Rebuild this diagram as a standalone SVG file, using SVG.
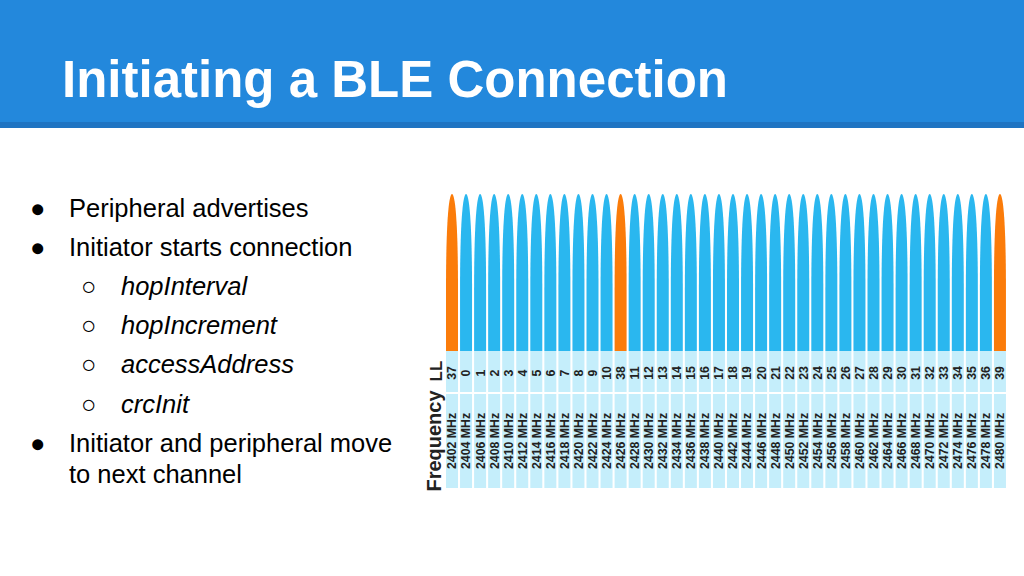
<svg xmlns="http://www.w3.org/2000/svg" xmlns:xlink="http://www.w3.org/1999/xlink" width="1024" height="576" viewBox="0 0 1024 576">
<style>
.title{font-family:"Liberation Sans",Arial,sans-serif;font-weight:bold;font-size:51px;fill:#ffffff}
.b{font-family:"Liberation Sans",Arial,sans-serif;font-size:25.5px;fill:#000000}
.bi{font-family:"Liberation Sans",Arial,sans-serif;font-size:25.5px;font-style:italic;fill:#000000}
.blue{fill:#2AB7EF}
.orange{fill:#FB7C0A}
.cell{fill:#C5EEFB}
.n{font-family:"Liberation Sans",Arial,sans-serif;font-weight:bold;font-size:12.3px;fill:#222222;text-anchor:middle}
.lab{font-family:"Liberation Sans",Arial,sans-serif;font-weight:bold;fill:#222222;text-anchor:middle}
</style>
<defs>
<path id="lobe" d="M0,351 L0,290 C0,220 3,194 6,194 C9,194 12,220 12,290 L12,351 Z"/>
<g id="cells"><rect x="0" y="351" width="12" height="41" class="cell"/><rect x="0" y="394" width="12" height="94" class="cell"/></g>
</defs>
<rect x="0" y="0" width="1024" height="576" fill="#ffffff"/>
<g id="header">
<rect x="0" y="0" width="1024" height="122" fill="#2388DC"/>
<rect x="0" y="122" width="1024" height="6" fill="#1F74C2"/>
<text class="title" x="62" y="97" textLength="666" lengthAdjust="spacingAndGlyphs">Initiating a BLE Connection</text>
</g>
<g id="bullets">
<text class="b" x="30" y="217">●</text><text class="b" x="69" y="217">Peripheral advertises</text>
<text class="b" x="30" y="256">●</text><text class="b" x="69" y="256">Initiator starts connection</text>
<text class="b" x="81" y="295">○</text><text class="bi" x="121" y="295">hopInterval</text>
<text class="b" x="81" y="334">○</text><text class="bi" x="121" y="334">hopIncrement</text>
<text class="b" x="81" y="373">○</text><text class="bi" x="121" y="373">accessAddress</text>
<text class="b" x="81" y="413">○</text><text class="bi" x="121" y="413">crcInit</text>
<text class="b" x="30" y="452">●</text><text class="b" x="69" y="452">Initiator and peripheral move</text>
<text class="b" x="69" y="483">to next channel</text>
</g>
<g id="axis-labels">
<text class="lab" font-size="17" transform="translate(442,371) rotate(-90)">LL</text>
<text class="lab" font-size="20" transform="translate(441,441) rotate(-90)">Frequency</text>
</g>
<g id="channels">
<g id="ch37" transform="translate(446,0)"><use xlink:href="#lobe" class="orange"/><use xlink:href="#cells"/><text class="n" transform="translate(10.4,373) rotate(-90)">37</text><text class="n" transform="translate(10.4,441) rotate(-90)">2402 MHz</text></g>
<g id="ch0" transform="translate(460.05,0)"><use xlink:href="#lobe" class="blue"/><use xlink:href="#cells"/><text class="n" transform="translate(10.4,373) rotate(-90)">0</text><text class="n" transform="translate(10.4,441) rotate(-90)">2404 MHz</text></g>
<g id="ch1" transform="translate(474.1,0)"><use xlink:href="#lobe" class="blue"/><use xlink:href="#cells"/><text class="n" transform="translate(10.4,373) rotate(-90)">1</text><text class="n" transform="translate(10.4,441) rotate(-90)">2406 MHz</text></g>
<g id="ch2" transform="translate(488.15,0)"><use xlink:href="#lobe" class="blue"/><use xlink:href="#cells"/><text class="n" transform="translate(10.4,373) rotate(-90)">2</text><text class="n" transform="translate(10.4,441) rotate(-90)">2408 MHz</text></g>
<g id="ch3" transform="translate(502.2,0)"><use xlink:href="#lobe" class="blue"/><use xlink:href="#cells"/><text class="n" transform="translate(10.4,373) rotate(-90)">3</text><text class="n" transform="translate(10.4,441) rotate(-90)">2410 MHz</text></g>
<g id="ch4" transform="translate(516.25,0)"><use xlink:href="#lobe" class="blue"/><use xlink:href="#cells"/><text class="n" transform="translate(10.4,373) rotate(-90)">4</text><text class="n" transform="translate(10.4,441) rotate(-90)">2412 MHz</text></g>
<g id="ch5" transform="translate(530.3,0)"><use xlink:href="#lobe" class="blue"/><use xlink:href="#cells"/><text class="n" transform="translate(10.4,373) rotate(-90)">5</text><text class="n" transform="translate(10.4,441) rotate(-90)">2414 MHz</text></g>
<g id="ch6" transform="translate(544.35,0)"><use xlink:href="#lobe" class="blue"/><use xlink:href="#cells"/><text class="n" transform="translate(10.4,373) rotate(-90)">6</text><text class="n" transform="translate(10.4,441) rotate(-90)">2416 MHz</text></g>
<g id="ch7" transform="translate(558.4,0)"><use xlink:href="#lobe" class="blue"/><use xlink:href="#cells"/><text class="n" transform="translate(10.4,373) rotate(-90)">7</text><text class="n" transform="translate(10.4,441) rotate(-90)">2418 MHz</text></g>
<g id="ch8" transform="translate(572.45,0)"><use xlink:href="#lobe" class="blue"/><use xlink:href="#cells"/><text class="n" transform="translate(10.4,373) rotate(-90)">8</text><text class="n" transform="translate(10.4,441) rotate(-90)">2420 MHz</text></g>
<g id="ch9" transform="translate(586.5,0)"><use xlink:href="#lobe" class="blue"/><use xlink:href="#cells"/><text class="n" transform="translate(10.4,373) rotate(-90)">9</text><text class="n" transform="translate(10.4,441) rotate(-90)">2422 MHz</text></g>
<g id="ch10" transform="translate(600.55,0)"><use xlink:href="#lobe" class="blue"/><use xlink:href="#cells"/><text class="n" transform="translate(10.4,373) rotate(-90)">10</text><text class="n" transform="translate(10.4,441) rotate(-90)">2424 MHz</text></g>
<g id="ch38" transform="translate(614.6,0)"><use xlink:href="#lobe" class="orange"/><use xlink:href="#cells"/><text class="n" transform="translate(10.4,373) rotate(-90)">38</text><text class="n" transform="translate(10.4,441) rotate(-90)">2426 MHz</text></g>
<g id="ch11" transform="translate(628.65,0)"><use xlink:href="#lobe" class="blue"/><use xlink:href="#cells"/><text class="n" transform="translate(10.4,373) rotate(-90)">11</text><text class="n" transform="translate(10.4,441) rotate(-90)">2428 MHz</text></g>
<g id="ch12" transform="translate(642.7,0)"><use xlink:href="#lobe" class="blue"/><use xlink:href="#cells"/><text class="n" transform="translate(10.4,373) rotate(-90)">12</text><text class="n" transform="translate(10.4,441) rotate(-90)">2430 MHz</text></g>
<g id="ch13" transform="translate(656.75,0)"><use xlink:href="#lobe" class="blue"/><use xlink:href="#cells"/><text class="n" transform="translate(10.4,373) rotate(-90)">13</text><text class="n" transform="translate(10.4,441) rotate(-90)">2432 MHz</text></g>
<g id="ch14" transform="translate(670.8,0)"><use xlink:href="#lobe" class="blue"/><use xlink:href="#cells"/><text class="n" transform="translate(10.4,373) rotate(-90)">14</text><text class="n" transform="translate(10.4,441) rotate(-90)">2434 MHz</text></g>
<g id="ch15" transform="translate(684.85,0)"><use xlink:href="#lobe" class="blue"/><use xlink:href="#cells"/><text class="n" transform="translate(10.4,373) rotate(-90)">15</text><text class="n" transform="translate(10.4,441) rotate(-90)">2436 MHz</text></g>
<g id="ch16" transform="translate(698.9,0)"><use xlink:href="#lobe" class="blue"/><use xlink:href="#cells"/><text class="n" transform="translate(10.4,373) rotate(-90)">16</text><text class="n" transform="translate(10.4,441) rotate(-90)">2438 MHz</text></g>
<g id="ch17" transform="translate(712.95,0)"><use xlink:href="#lobe" class="blue"/><use xlink:href="#cells"/><text class="n" transform="translate(10.4,373) rotate(-90)">17</text><text class="n" transform="translate(10.4,441) rotate(-90)">2440 MHz</text></g>
<g id="ch18" transform="translate(727,0)"><use xlink:href="#lobe" class="blue"/><use xlink:href="#cells"/><text class="n" transform="translate(10.4,373) rotate(-90)">18</text><text class="n" transform="translate(10.4,441) rotate(-90)">2442 MHz</text></g>
<g id="ch19" transform="translate(741.05,0)"><use xlink:href="#lobe" class="blue"/><use xlink:href="#cells"/><text class="n" transform="translate(10.4,373) rotate(-90)">19</text><text class="n" transform="translate(10.4,441) rotate(-90)">2444 MHz</text></g>
<g id="ch20" transform="translate(755.1,0)"><use xlink:href="#lobe" class="blue"/><use xlink:href="#cells"/><text class="n" transform="translate(10.4,373) rotate(-90)">20</text><text class="n" transform="translate(10.4,441) rotate(-90)">2446 MHz</text></g>
<g id="ch21" transform="translate(769.15,0)"><use xlink:href="#lobe" class="blue"/><use xlink:href="#cells"/><text class="n" transform="translate(10.4,373) rotate(-90)">21</text><text class="n" transform="translate(10.4,441) rotate(-90)">2448 MHz</text></g>
<g id="ch22" transform="translate(783.2,0)"><use xlink:href="#lobe" class="blue"/><use xlink:href="#cells"/><text class="n" transform="translate(10.4,373) rotate(-90)">22</text><text class="n" transform="translate(10.4,441) rotate(-90)">2450 MHz</text></g>
<g id="ch23" transform="translate(797.25,0)"><use xlink:href="#lobe" class="blue"/><use xlink:href="#cells"/><text class="n" transform="translate(10.4,373) rotate(-90)">23</text><text class="n" transform="translate(10.4,441) rotate(-90)">2452 MHz</text></g>
<g id="ch24" transform="translate(811.3,0)"><use xlink:href="#lobe" class="blue"/><use xlink:href="#cells"/><text class="n" transform="translate(10.4,373) rotate(-90)">24</text><text class="n" transform="translate(10.4,441) rotate(-90)">2454 MHz</text></g>
<g id="ch25" transform="translate(825.35,0)"><use xlink:href="#lobe" class="blue"/><use xlink:href="#cells"/><text class="n" transform="translate(10.4,373) rotate(-90)">25</text><text class="n" transform="translate(10.4,441) rotate(-90)">2456 MHz</text></g>
<g id="ch26" transform="translate(839.4,0)"><use xlink:href="#lobe" class="blue"/><use xlink:href="#cells"/><text class="n" transform="translate(10.4,373) rotate(-90)">26</text><text class="n" transform="translate(10.4,441) rotate(-90)">2458 MHz</text></g>
<g id="ch27" transform="translate(853.45,0)"><use xlink:href="#lobe" class="blue"/><use xlink:href="#cells"/><text class="n" transform="translate(10.4,373) rotate(-90)">27</text><text class="n" transform="translate(10.4,441) rotate(-90)">2460 MHz</text></g>
<g id="ch28" transform="translate(867.5,0)"><use xlink:href="#lobe" class="blue"/><use xlink:href="#cells"/><text class="n" transform="translate(10.4,373) rotate(-90)">28</text><text class="n" transform="translate(10.4,441) rotate(-90)">2462 MHz</text></g>
<g id="ch29" transform="translate(881.55,0)"><use xlink:href="#lobe" class="blue"/><use xlink:href="#cells"/><text class="n" transform="translate(10.4,373) rotate(-90)">29</text><text class="n" transform="translate(10.4,441) rotate(-90)">2464 MHz</text></g>
<g id="ch30" transform="translate(895.6,0)"><use xlink:href="#lobe" class="blue"/><use xlink:href="#cells"/><text class="n" transform="translate(10.4,373) rotate(-90)">30</text><text class="n" transform="translate(10.4,441) rotate(-90)">2466 MHz</text></g>
<g id="ch31" transform="translate(909.65,0)"><use xlink:href="#lobe" class="blue"/><use xlink:href="#cells"/><text class="n" transform="translate(10.4,373) rotate(-90)">31</text><text class="n" transform="translate(10.4,441) rotate(-90)">2468 MHz</text></g>
<g id="ch32" transform="translate(923.7,0)"><use xlink:href="#lobe" class="blue"/><use xlink:href="#cells"/><text class="n" transform="translate(10.4,373) rotate(-90)">32</text><text class="n" transform="translate(10.4,441) rotate(-90)">2470 MHz</text></g>
<g id="ch33" transform="translate(937.75,0)"><use xlink:href="#lobe" class="blue"/><use xlink:href="#cells"/><text class="n" transform="translate(10.4,373) rotate(-90)">33</text><text class="n" transform="translate(10.4,441) rotate(-90)">2472 MHz</text></g>
<g id="ch34" transform="translate(951.8,0)"><use xlink:href="#lobe" class="blue"/><use xlink:href="#cells"/><text class="n" transform="translate(10.4,373) rotate(-90)">34</text><text class="n" transform="translate(10.4,441) rotate(-90)">2474 MHz</text></g>
<g id="ch35" transform="translate(965.85,0)"><use xlink:href="#lobe" class="blue"/><use xlink:href="#cells"/><text class="n" transform="translate(10.4,373) rotate(-90)">35</text><text class="n" transform="translate(10.4,441) rotate(-90)">2476 MHz</text></g>
<g id="ch36" transform="translate(979.9,0)"><use xlink:href="#lobe" class="blue"/><use xlink:href="#cells"/><text class="n" transform="translate(10.4,373) rotate(-90)">36</text><text class="n" transform="translate(10.4,441) rotate(-90)">2478 MHz</text></g>
<g id="ch39" transform="translate(993.95,0)"><use xlink:href="#lobe" class="orange"/><use xlink:href="#cells"/><text class="n" transform="translate(10.4,373) rotate(-90)">39</text><text class="n" transform="translate(10.4,441) rotate(-90)">2480 MHz</text></g>
</g>
<g id="connectors"/>
</svg>
